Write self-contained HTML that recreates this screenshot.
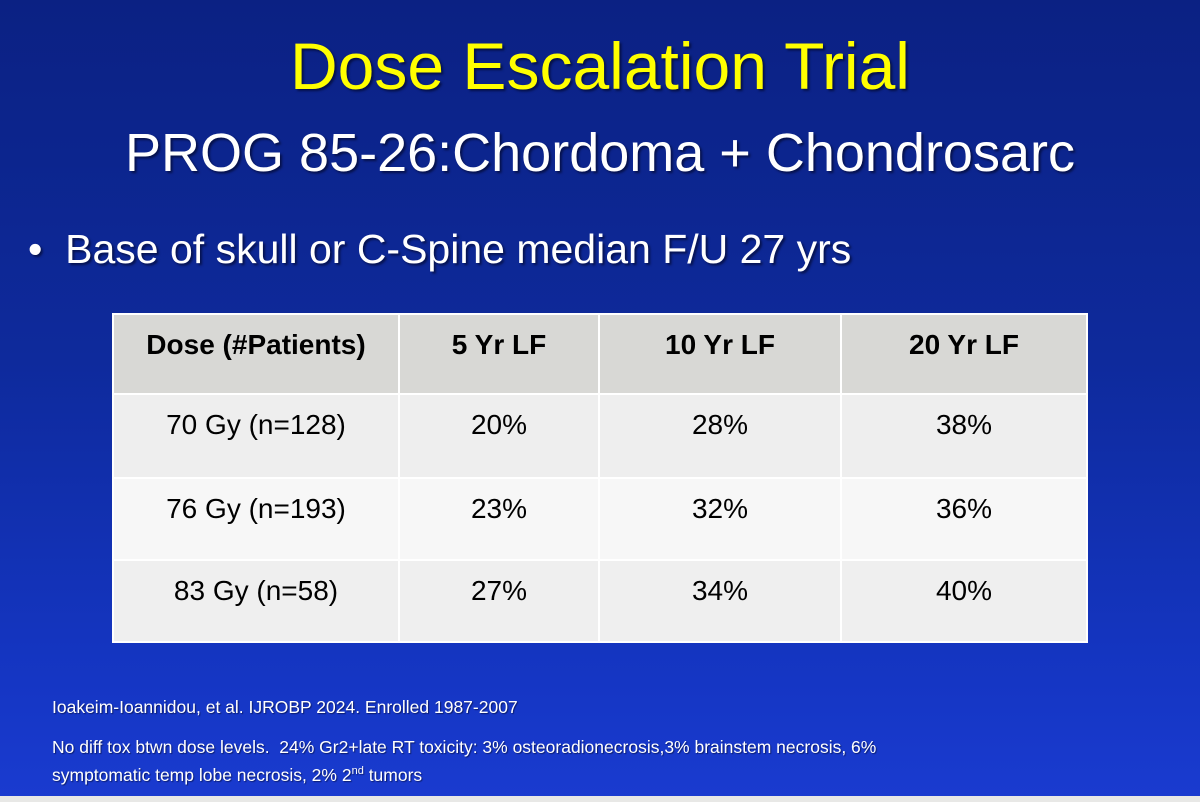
<!DOCTYPE html>
<html><head><meta charset="utf-8"><style>
html,body{margin:0;padding:0}
body{width:1200px;height:802px;overflow:hidden;position:relative;font-family:"Liberation Sans",Arial,sans-serif;background:linear-gradient(180deg,#0b2183 0%,#0e2a9c 45%,#1536c4 85%,#1a3bd0 100%)}
.t{position:absolute;white-space:nowrap;text-shadow:2px 2px 2px rgba(0,0,20,.55)}
#title{left:0;width:1200px;text-align:center;top:28px;font-size:66px;color:#ffff00}
#sub{left:0;width:1200px;text-align:center;top:122px;font-size:54px;color:#fff}
#bullet{left:28px;top:226px;font-size:41px;color:#fff}
table{position:absolute;left:112px;top:313px;width:974px;border-collapse:collapse;table-layout:fixed}
td{border:2px solid #fff;text-align:center;font-size:28px;color:#000;height:78px;vertical-align:top;padding-top:14px;box-sizing:border-box}
tr.h td{background:#d8d8d5;font-weight:bold}
tr.r1 td{background:#eeeeee}
tr.r2 td{background:#f7f7f7}
tr.r3 td{background:#efefef}
.f{position:absolute;left:52px;color:#fff;font-size:17.5px;white-space:nowrap;text-shadow:1px 1px 1px rgba(0,0,20,.5)}
#strip{position:absolute;left:0;top:796px;width:1200px;height:6px;background:#e8e8e6}
</style></head><body>
<div class="t" id="title">Dose Escalation Trial</div>
<div class="t" id="sub">PROG 85-26:Chordoma + Chondrosarc</div>
<div class="t" id="bullet">•&nbsp; Base of skull or C-Spine median F/U 27 yrs</div>
<table>
<colgroup><col style="width:286px"><col style="width:200px"><col style="width:242px"><col style="width:246px"></colgroup>
<tr class="h"><td style="height:80px">Dose (#Patients)</td><td>5 Yr LF</td><td>10 Yr LF</td><td>20 Yr LF</td></tr>
<tr class="r1"><td style="height:84px">70 Gy (n=128)</td><td>20%</td><td>28%</td><td>38%</td></tr>
<tr class="r2"><td style="height:82px">76 Gy (n=193)</td><td>23%</td><td>32%</td><td>36%</td></tr>
<tr class="r3"><td style="height:82px">83 Gy (n=58)</td><td>27%</td><td>34%</td><td>40%</td></tr>
</table>
<div class="f" style="top:697px">Ioakeim-Ioannidou, et al. IJROBP 2024. Enrolled 1987-2007</div>
<div class="f" style="top:735px;line-height:24px">No diff tox btwn dose levels.&nbsp; 24% Gr2+late RT toxicity: 3% osteoradionecrosis,3% brainstem necrosis, 6%<br>symptomatic temp lobe necrosis, 2% 2<sup style="font-size:11px">nd</sup> tumors</div>
<div id="strip"></div>
</body></html>
